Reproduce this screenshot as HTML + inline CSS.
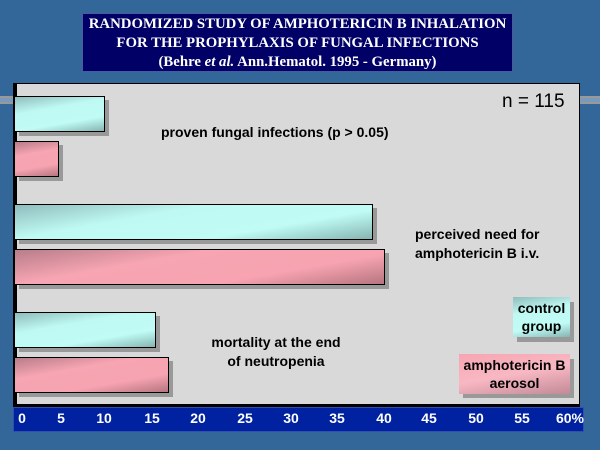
<!DOCTYPE html>
<html><head><style>
body{margin:0;width:600px;height:450px;background:#336699;position:relative;overflow:hidden;font-family:"Liberation Sans",sans-serif}
div{position:absolute;box-sizing:border-box}
.title{left:82px;top:13px;width:431px;height:59px;background:#000066;border:1px solid #4a5aa0;color:#fff;font-family:"Liberation Serif",serif;font-weight:bold;font-size:14.8px;text-align:center;line-height:19px;padding-top:1px;white-space:nowrap}
.panel{left:13px;top:83px;width:567px;height:324px;background:#d9d9d9;border:1px solid #000;border-left:4px solid #000;border-bottom:3px solid #000}
.gl{height:8px;top:96px;border-top:2px solid #999;border-bottom:2px solid #999;background:#7a9abb}
.sh{background:#999}
.c{background:linear-gradient(170deg,#8fbdbd 0%,#bff9f3 35%,#c0fbf5 70%,#86b5b2 100%);border:1px solid #000}
.p{background:linear-gradient(170deg,#b87d8a 0%,#f7a5b2 35%,#f7a3b1 70%,#b6767f 100%);border:1px solid #000}
.t{font-weight:bold;font-size:14px;color:#000;line-height:17px;white-space:nowrap}
.ax{left:13px;top:407px;width:571px;height:25px;background:#0022a0;border:1px solid #3050b0}
.tk{top:410px;color:#fff;font-weight:bold;font-size:14px;width:40px;text-align:center;margin-left:-20px}
</style></head><body>
<div class="title">RANDOMIZED STUDY OF AMPHOTERICIN B INHALATION<br>FOR THE PROPHYLAXIS OF FUNGAL INFECTIONS<br>(Behre <i>et al.</i> Ann.Hematol. 1995 - Germany)</div>
<div class="gl" style="left:0;width:14px"></div>
<div class="gl" style="left:580px;width:20px"></div>
<div class="panel"></div>
<div class="t" style="left:502px;top:91px;font-size:19px;font-weight:normal;line-height:22px">n = 115</div>

<div class="sh" style="left:19px;top:100px;width:90px;height:36px"></div>
<div class="c" style="left:14px;top:96px;width:91px;height:36px"></div>
<div class="sh" style="left:19px;top:145px;width:44px;height:36px"></div>
<div class="p" style="left:14px;top:141px;width:45px;height:36px"></div>
<div class="t" style="left:161px;top:124px">proven fungal infections (p &gt; 0.05)</div>

<div class="sh" style="left:19px;top:208px;width:358px;height:36px"></div>
<div class="c" style="left:14px;top:204px;width:359px;height:36px"></div>
<div class="sh" style="left:19px;top:253px;width:370px;height:36px"></div>
<div class="p" style="left:14px;top:249px;width:371px;height:36px"></div>
<div class="t" style="left:415px;top:225px;line-height:19px">perceived need for<br>amphotericin B i.v.</div>

<div class="sh" style="left:19px;top:316px;width:141px;height:36px"></div>
<div class="c" style="left:14px;top:312px;width:142px;height:36px"></div>
<div class="sh" style="left:19px;top:361px;width:154px;height:36px"></div>
<div class="p" style="left:14px;top:357px;width:155px;height:36px"></div>
<div class="t" style="left:196px;top:333px;text-align:center;width:160px;line-height:19px">mortality at the end<br>of neutropenia</div>

<div class="sh" style="left:517px;top:302px;width:57px;height:40px"></div>
<div class="c" style="left:513px;top:297px;width:57px;height:40px;border:none;text-align:center;padding-top:3px"><span class="t" style="position:static">control<br>group</span></div>
<div class="sh" style="left:463px;top:359px;width:111px;height:39px"></div>
<div class="p" style="left:459px;top:354px;width:111px;height:40px;border:none;text-align:center;padding-top:3px;background:linear-gradient(170deg,#f7a5b2,#f8b8c3 50%,#c28a96)"><span class="t" style="position:static">amphotericin B<br>aerosol</span></div>

<div class="ax"></div>
<div class="tk" style="left:22px">0</div>
<div class="tk" style="left:61px">5</div>
<div class="tk" style="left:104px">10</div>
<div class="tk" style="left:152px">15</div>
<div class="tk" style="left:198px">20</div>
<div class="tk" style="left:245px">25</div>
<div class="tk" style="left:291px">30</div>
<div class="tk" style="left:337px">35</div>
<div class="tk" style="left:384px">40</div>
<div class="tk" style="left:429px">45</div>
<div class="tk" style="left:476px">50</div>
<div class="tk" style="left:522px">55</div>
<div class="tk" style="left:570px">60%</div>
</body></html>
